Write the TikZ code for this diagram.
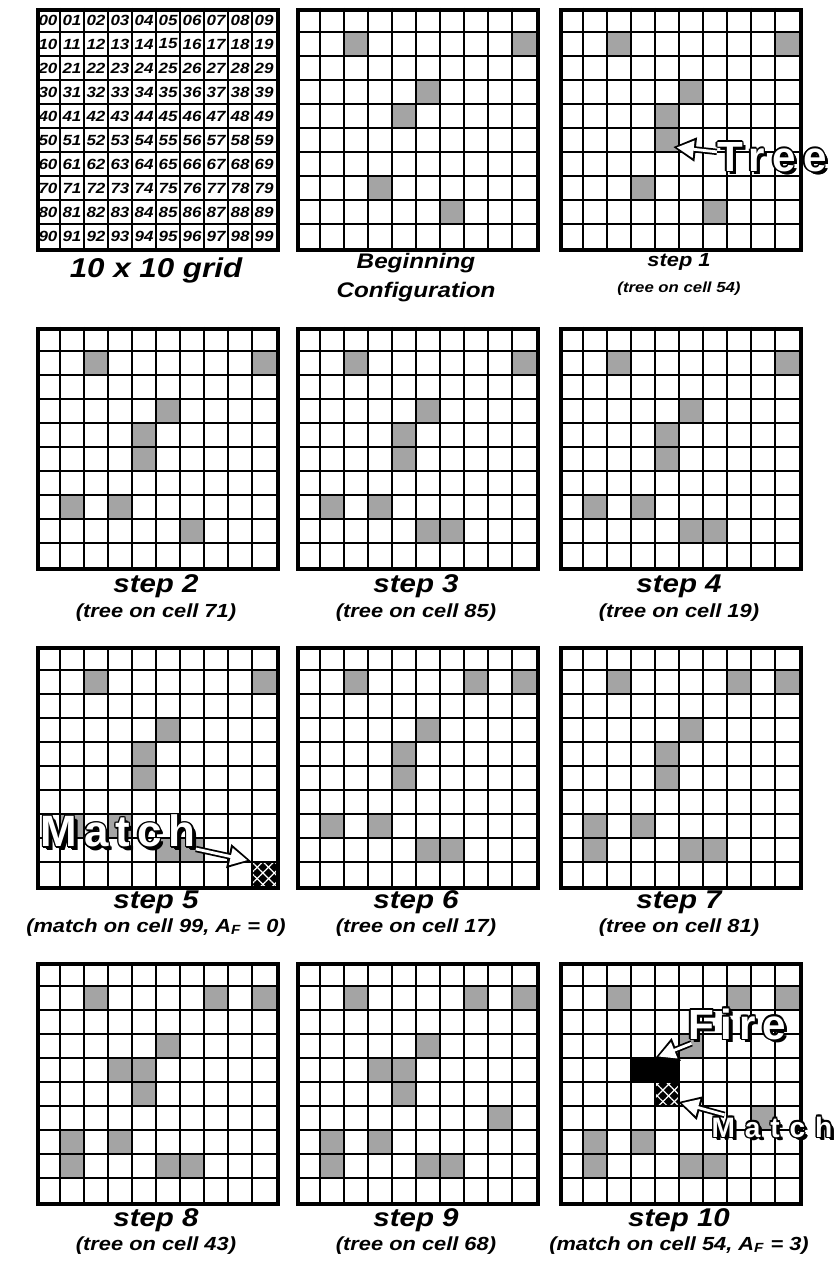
\documentclass[tikz,border=0pt]{standalone}
\usepackage{fontspec}
\setmainfont{Liberation Sans}
\newfontfamily\capfont[FakeStretch=1.15]{Liberation Sans}
\newfontfamily\labfont{Liberation Sans}
\usepackage{tikz}
\usetikzlibrary{arrows.meta,patterns.meta}
\definecolor{tgray}{HTML}{A4A4A4}

% white lettering with a black rim and a drop shadow
\newcommand{\rimcopy}[3]{\rlap{\hspace{#1}\raisebox{#2}{\color{black}#3}}}
\newcommand{\outl}[1]{%
  \rimcopy{1.6pt}{-1.6pt}{#1}\rimcopy{2.0pt}{-2.0pt}{#1}%
  \rimcopy{0.8pt}{0pt}{#1}\rimcopy{-0.8pt}{0pt}{#1}%
  \rimcopy{0pt}{0.8pt}{#1}\rimcopy{0pt}{-0.8pt}{#1}%
  \rimcopy{0.6pt}{0.6pt}{#1}\rimcopy{-0.6pt}{0.6pt}{#1}%
  \rimcopy{0.6pt}{-0.6pt}{#1}\rimcopy{-0.6pt}{-0.6pt}{#1}%
  {\color{white}#1}}

% black cell with a white lattice
\newcommand{\matchcell}[2]{%
  \fill[black] (#1,#2) rectangle ++(24,24);
  \fill[pattern={Lines[angle=45,distance=4.6pt,line width=0.7pt]},pattern color=white]
    (#1,#2) rectangle ++(24,24);
  \fill[pattern={Lines[angle=-45,distance=4.6pt,line width=0.7pt]},pattern color=white]
    (#1,#2) rectangle ++(24,24);}

% one 10x10 board: name, left, top, shaded cells, extra cells
\newcommand{\panel}[5]{%
  \begin{scope}[shift={(#2,#3)}]
    \foreach \k in {#4} {
      \pgfmathtruncatemacro{\rr}{\k/10}
      \pgfmathtruncatemacro{\cc}{\k-10*\rr}
      \fill[tgray] (24*\cc,24*\rr) rectangle ++(24,24);
    }
    #5
    \foreach \k in {1,...,9} {
      \draw[cellline] (24*\k,0) -- (24*\k,240);
      \draw[cellline] (0,24*\k) -- (240,24*\k);
    }
  \end{scope}
  \node[frame,anchor=north west] (#1) at (#2,#3) {};
}

\begin{document}
\begin{tikzpicture}[x=0.02cm,y=-0.02cm,
    cellline/.style={line width=0.7pt},
    frame/.style={draw,line width=2.3pt,minimum width=4.8cm,minimum height=4.8cm,inner sep=0pt},
    cellnum/.style={font=\capfont\bfseries\itshape\fontsize{8.4}{9}\selectfont,inner sep=0pt},
    capbig/.style={font=\capfont\bfseries\itshape\fontsize{15.5}{18}\selectfont,inner sep=0pt,anchor=base},
    capmid/.style={font=\capfont\bfseries\itshape\fontsize{12}{14}\selectfont,inner sep=0pt,anchor=base},
    capsm/.style={font=\capfont\bfseries\itshape\fontsize{10.8}{13}\selectfont,inner sep=0pt,anchor=base},
    subsm/.style={font=\capfont\bfseries\itshape\fontsize{8.3}{10}\selectfont,inner sep=0pt,anchor=base},
    capst/.style={font=\capfont\bfseries\itshape\fontsize{14.6}{17}\selectfont,inner sep=0pt,anchor=base},
    subst/.style={font=\capfont\bfseries\itshape\fontsize{10.8}{13}\selectfont,inner sep=0pt,anchor=base},
    biglab/.style={font=\labfont\bfseries,inner sep=0pt},
    arrout/.style={line width=3.6pt,-{Triangle[length=13pt,width=13pt]}},
    arrin/.style={white,line width=1.6pt,shorten >=2.2pt,-{Triangle[length=9.6pt,width=9.6pt]}}]
  \useasboundingbox (0,0) rectangle (834,1273);
  % ---- row 1: numbering, start, step 1 ----
  \begin{scope}[shift={(36,8)}]
    \foreach \k in {1,...,9} {
      \draw[cellline] (24*\k,0) -- (24*\k,240);
      \draw[cellline] (0,24*\k) -- (240,24*\k);
    }
    \foreach \rr in {0,...,9} {
      \foreach \cc in {0,...,9} {
        \node[cellnum] (n\rr\cc) at (24*\cc+12,24*\rr+12) {\rr\cc};
      }
    }
  \end{scope}
  \node[frame,anchor=north west] (gnum) at (36,8) {};
  \panel{g0}{296}{8}{12,19,35,44,73,86}{}
  \panel{g1}{559}{8}{12,19,35,44,54,73,86}{}
  \node[capbig] (tnum) at (156,278) {10 x 10 grid};
  \node[capmid] (t0a) at (416,269) {Beginning};
  \node[capmid] (t0b) at (416,298) {Configuration};
  \node[capsm] (t1a) at (679,267) {step 1};
  \node[subsm] (t1b) at (679,293) {(tree on cell 54)};
  \node[biglab] (lbTree) at (772,158) {\fontsize{24}{24}\selectfont\addfontfeature{LetterSpace=18}\outl{Tree}};
  \coordinate (tipTree) at (673,147);
  \draw[arrout] (lbTree) -- (tipTree);
  \draw[arrin] (lbTree) -- (tipTree);
  % ---- row 2: steps 2 to 4 ----
  \panel{g2}{36}{327}{12,19,35,44,54,71,73,86}{}
  \panel{g3}{296}{327}{12,19,35,44,54,71,73,85,86}{}
  \panel{g4}{559}{327}{12,19,35,44,54,71,73,85,86}{}
  \node[capst] (t2a) at (156,592) {step 2};
  \node[subst] (t2b) at (156,617) {(tree on cell 71)};
  \node[capst] (t3a) at (416,592) {step 3};
  \node[subst] (t3b) at (416,617) {(tree on cell 85)};
  \node[capst] (t4a) at (679,592) {step 4};
  \node[subst] (t4b) at (679,617) {(tree on cell 19)};
  % ---- row 3: steps 5 to 7 ----
  \panel{g5}{36}{646}{12,19,35,44,54,71,73,85,86}{\matchcell{216}{216}}
  \panel{g6}{296}{646}{12,17,19,35,44,54,71,73,85,86}{}
  \panel{g7}{559}{646}{12,17,19,35,44,54,71,73,81,85,86}{}
  \node[capst] (t5a) at (156,908) {step 5};
  \node[subst] (t5b) at (156,932) {(match on cell 99, A\textsubscript{F} = 0)};
  \node[capst] (t6a) at (416,908) {step 6};
  \node[subst] (t6b) at (416,932) {(tree on cell 17)};
  \node[capst] (t7a) at (679,908) {step 7};
  \node[subst] (t7b) at (679,932) {(tree on cell 81)};
  \node[biglab] (lbMatchA) at (118,832) {\fontsize{25}{25}\selectfont\addfontfeature{LetterSpace=16}\outl{Match}};
  \coordinate (tipMatchA) at (251,861);
  \draw[arrout] (lbMatchA) -- (tipMatchA);
  \draw[arrin] (lbMatchA) -- (tipMatchA);
  % ---- row 4: steps 8 to 10 ----
  \panel{g8}{36}{962}{12,17,19,35,43,44,54,71,73,81,85,86}{}
  \panel{g9}{296}{962}{12,17,19,35,43,44,54,68,71,73,81,85,86}{}
  \panel{g10}{559}{962}{12,17,19,35,68,71,73,81,85,86}{\fill[black] (72,96) rectangle (120,120); \matchcell{96}{120}}
  \node[capst] (t8a) at (156,1226) {step 8};
  \node[subst] (t8b) at (156,1250) {(tree on cell 43)};
  \node[capst] (t9a) at (416,1226) {step 9};
  \node[subst] (t9b) at (416,1250) {(tree on cell 68)};
  \node[capst] (t10a) at (679,1226) {step 10};
  \node[subst] (t10b) at (679,1250) {(match on cell 54, A\textsubscript{F} = 3)};
  \node[biglab] (lbFire) at (737,1025) {\fontsize{24}{24}\selectfont\addfontfeature{LetterSpace=16}\outl{Fire}};
  \coordinate (tipFire) at (655,1058);
  \draw[arrout] (lbFire) -- (tipFire);
  \draw[arrin] (lbFire) -- (tipFire);
  \node[biglab] (lbMatchB) at (772,1128) {\fontsize{16}{16}\selectfont\addfontfeature{LetterSpace=35}\outl{Match}};
  \coordinate (tipMatchB) at (678,1102);
  \draw[arrout] (lbMatchB) -- (tipMatchB);
  \draw[arrin] (lbMatchB) -- (tipMatchB);
\end{tikzpicture}
\end{document}
